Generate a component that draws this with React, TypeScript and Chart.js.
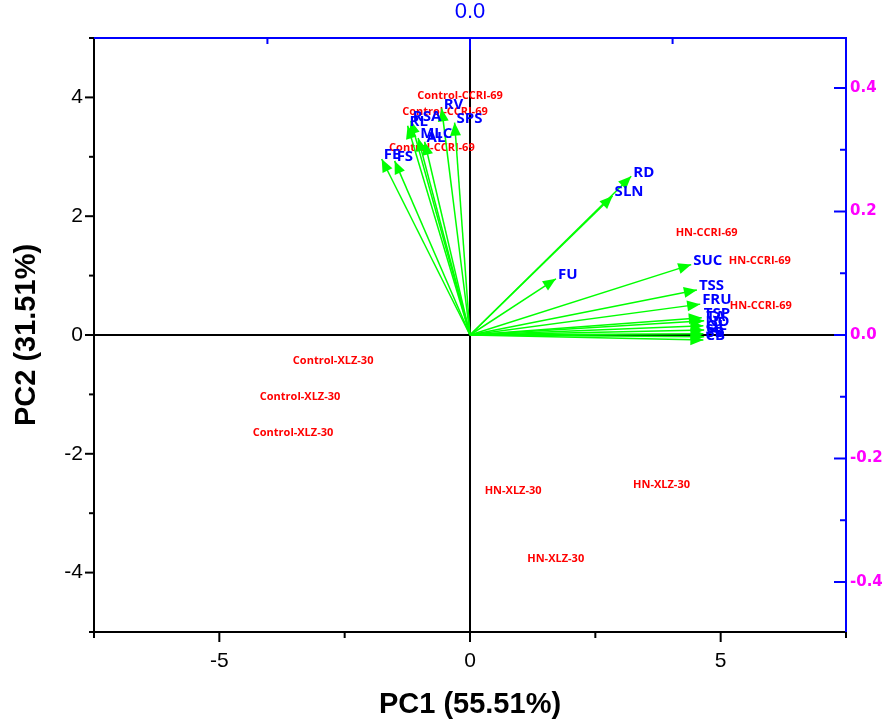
import React, { useEffect, useRef } from 'react';
import { Chart, registerables } from 'chart.js';

Chart.register(...registerables);

// ---- axis ticks ----
const X_TICKS = [-5, 0, 5];
const X_MINOR = [-7.5, -2.5, 2.5, 7.5];
const Y_TICKS = [-4, -2, 0, 2, 4];
const Y_MINOR = [-5, -3, -1, 1, 3, 5];
const Y2_TICKS = [-0.4, -0.2, 0, 0.2, 0.4];
const Y2_MINOR = [-0.3, -0.1, 0.1, 0.3];
const X2_TICKS = [0];
const X2_MINOR = [-0.25, 0.25];

// ---- sample scores (PC1, PC2) ----
const SCORE_GROUPS = ['Control-CCRI-69', 'HN-CCRI-69', 'Control-XLZ-30', 'HN-XLZ-30'];
const CONTROL_CCRI69_PC1 = [-0.2, -0.5, -0.76];
const CONTROL_CCRI69_PC2 = [4.02, 3.76, 3.15];
const HN_CCRI69_PC1 = [4.72, 5.78, 5.8];
const HN_CCRI69_PC2 = [1.72, 1.24, 0.49];
const CONTROL_XLZ30_PC1 = [-2.73, -3.39, -3.53];
const CONTROL_XLZ30_PC2 = [-0.44, -1.04, -1.65];
const HN_XLZ30_PC1 = [0.86, 3.82, 1.71];
const HN_XLZ30_PC2 = [-2.62, -2.53, -3.77];

// ---- variable loadings ----
const VARIABLES = ['RV', 'SPS', 'RSA', 'RL', 'MLC', 'AL', 'FE', 'FS', 'RD', 'SLN', 'FU', 'SUC', 'TSS', 'FRU', 'TSP', 'TA', 'NO', 'QL', 'SC', 'SB', 'CB'];
const LOAD_PC1 = [-0.035, -0.019, -0.073, -0.077, -0.064, -0.056, -0.109, -0.093, 0.199, 0.176, 0.106, 0.273, 0.28, 0.284, 0.286, 0.289, 0.288, 0.289, 0.288, 0.289, 0.288];
const LOAD_PC2 = [0.367, 0.344, 0.347, 0.339, 0.319, 0.313, 0.285, 0.282, 0.257, 0.225, 0.091, 0.114, 0.073, 0.05, 0.028, 0.023, 0.015, 0.008, 0.002, -0.003, -0.008];

const SCORE_X = [CONTROL_CCRI69_PC1, HN_CCRI69_PC1, CONTROL_XLZ30_PC1, HN_XLZ30_PC1];
const SCORE_Y = [CONTROL_CCRI69_PC2, HN_CCRI69_PC2, CONTROL_XLZ30_PC2, HN_XLZ30_PC2];

const ARROW_COLOR = '#00ff00';
const BLUE = '#0000ff';

const biplotPlugin = {
  id: 'biplot',
  beforeDatasetsDraw(chart: any) {
    const { ctx, chartArea: a, scales } = chart;
    ctx.save();
    ctx.strokeStyle = '#000';
    ctx.lineWidth = 2;
    const x0 = scales.x.getPixelForValue(0);
    const y0 = scales.y.getPixelForValue(0);
    ctx.beginPath();
    ctx.moveTo(x0, a.top);
    ctx.lineTo(x0, a.bottom);
    ctx.moveTo(a.left, y0);
    ctx.lineTo(a.right, y0);
    ctx.stroke();
    ctx.font = 'bold 11px "Open Sans", sans-serif';
    ctx.fillStyle = '#ff0000';
    ctx.textAlign = 'center';
    ctx.textBaseline = 'middle';
    chart.data.datasets.forEach((ds: any, i: number) => {
      if (ds.kind !== 'score') return;
      const meta = chart.getDatasetMeta(i);
      meta.data.forEach((pt: any) => ctx.fillText(ds.label, pt.x, pt.y));
    });
    ctx.restore();
  },
  afterDatasetsDraw(chart: any) {
    const { ctx } = chart;
    ctx.save();
    const L = 13;
    const W = 5.5;
    const labels: any[] = [];
    chart.data.datasets.forEach((ds: any, i: number) => {
      if (ds.kind !== 'arrow') return;
      const meta = chart.getDatasetMeta(i);
      const p0 = meta.data[0];
      const p1 = meta.data[1];
      const ang = Math.atan2(p1.y - p0.y, p1.x - p0.x);
      const c = Math.cos(ang);
      const s = Math.sin(ang);
      const bx = p1.x - L * c;
      const by = p1.y - L * s;
      ctx.fillStyle = ARROW_COLOR;
      ctx.beginPath();
      ctx.moveTo(p1.x, p1.y);
      ctx.lineTo(bx - W * s, by + W * c);
      ctx.lineTo(bx + W * s, by - W * c);
      ctx.closePath();
      ctx.fill();
      labels.push({ text: ds.label, x: p1.x + 2, y: p1.y - 4 });
    });
    ctx.font = 'bold 15px "Open Sans", sans-serif';
    ctx.fillStyle = BLUE;
    ctx.textAlign = 'left';
    ctx.textBaseline = 'middle';
    labels.forEach((l) => ctx.fillText(l.text, l.x, l.y));
    ctx.restore();
  },
  afterDraw(chart: any) {
    const { ctx, chartArea: a, scales } = chart;
    ctx.save();
    ctx.lineWidth = 2;
    // left & bottom (black)
    ctx.strokeStyle = '#000';
    ctx.beginPath();
    ctx.moveTo(a.left, a.top);
    ctx.lineTo(a.left, a.bottom);
    ctx.lineTo(a.right, a.bottom);
    ctx.stroke();
    Y_TICKS.forEach((v) => {
      const p = scales.y.getPixelForValue(v);
      ctx.beginPath(); ctx.moveTo(a.left - 9, p); ctx.lineTo(a.left, p); ctx.stroke();
    });
    Y_MINOR.forEach((v) => {
      const p = scales.y.getPixelForValue(v);
      ctx.beginPath(); ctx.moveTo(a.left - 5, p); ctx.lineTo(a.left, p); ctx.stroke();
    });
    X_TICKS.forEach((v) => {
      const p = scales.x.getPixelForValue(v);
      ctx.beginPath(); ctx.moveTo(p, a.bottom); ctx.lineTo(p, a.bottom + 10); ctx.stroke();
    });
    X_MINOR.forEach((v) => {
      const p = scales.x.getPixelForValue(v);
      ctx.beginPath(); ctx.moveTo(p, a.bottom); ctx.lineTo(p, a.bottom + 6); ctx.stroke();
    });
    // top & right (blue)
    ctx.strokeStyle = BLUE;
    ctx.beginPath();
    ctx.moveTo(a.left, a.top);
    ctx.lineTo(a.right, a.top);
    ctx.lineTo(a.right, a.bottom);
    ctx.stroke();
    Y2_TICKS.forEach((v) => {
      const p = scales.y2.getPixelForValue(v);
      ctx.beginPath(); ctx.moveTo(a.right - 12, p); ctx.lineTo(a.right, p); ctx.stroke();
    });
    Y2_MINOR.forEach((v) => {
      const p = scales.y2.getPixelForValue(v);
      ctx.beginPath(); ctx.moveTo(a.right - 6, p); ctx.lineTo(a.right, p); ctx.stroke();
    });
    X2_MINOR.forEach((v) => {
      const p = scales.x2.getPixelForValue(v);
      ctx.beginPath(); ctx.moveTo(p, a.top); ctx.lineTo(p, a.top + 6); ctx.stroke();
    });
    X2_TICKS.forEach((v) => {
      const p = scales.x2.getPixelForValue(v);
      ctx.beginPath(); ctx.moveTo(p, a.top); ctx.lineTo(p, a.top + 12); ctx.stroke();
    });
    ctx.restore();
  },
};

export default function App() {
  const ref = useRef<HTMLCanvasElement | null>(null);

  useEffect(() => {
    if (!ref.current) return;
    Chart.defaults.font.family = '"Liberation Sans", Arial, sans-serif';

    const datasets: any[] = [];
    SCORE_GROUPS.forEach((g, gi) => {
      datasets.push({
        kind: 'score',
        label: g,
        data: SCORE_X[gi].map((x, k) => ({ x, y: SCORE_Y[gi][k] })),
        pointRadius: 0,
        pointHoverRadius: 0,
        xAxisID: 'x',
        yAxisID: 'y',
      });
    });
    VARIABLES.forEach((v, i) => {
      datasets.push({
        kind: 'arrow',
        label: v,
        data: [{ x: 0, y: 0 }, { x: LOAD_PC1[i], y: LOAD_PC2[i] }],
        showLine: true,
        borderColor: ARROW_COLOR,
        borderWidth: 1.5,
        pointRadius: 0,
        pointHoverRadius: 0,
        xAxisID: 'x2',
        yAxisID: 'y2',
      });
    });

    const tickFont = { family: '"Liberation Sans", Arial, sans-serif', size: 21 };
    const titleFont = { family: '"Liberation Sans", Arial, sans-serif', size: 29, weight: 'bold' as const };
    const noGrid = { display: false, drawTicks: false, tickLength: 0 };

    const chart = new Chart(ref.current, {
      type: 'scatter',
      data: { datasets },
      options: {
        animation: false,
        responsive: false,
        layout: { padding: 0 },
        plugins: { legend: { display: false }, tooltip: { enabled: false } },
        scales: {
          x: {
            type: 'linear',
            position: 'bottom',
            min: -7.5,
            max: 7.5,
            grid: noGrid,
            border: { display: false },
            afterBuildTicks: (s: any) => { s.ticks = X_TICKS.map((value) => ({ value })); },
            afterFit: (s: any) => { s.height = 91; },
            ticks: { font: tickFont, color: '#000', padding: 17, maxRotation: 0, autoSkip: false, callback: (v: any) => String(v) },
            title: { display: true, text: 'PC1 (55.51%)', font: titleFont, color: '#000', padding: { top: 0, bottom: 1 } },
          },
          y: {
            type: 'linear',
            position: 'left',
            min: -5,
            max: 5,
            grid: noGrid,
            border: { display: false },
            afterBuildTicks: (s: any) => { s.ticks = Y_TICKS.map((value) => ({ value })); },
            afterFit: (s: any) => { s.width = 94; },
            ticks: { font: tickFont, color: '#000', padding: 11, autoSkip: false, callback: (v: any) => String(v) },
            title: { display: true, text: 'PC2 (31.51%)', font: titleFont, color: '#000', padding: { top: 10, bottom: 0 } },
          },
          x2: {
            type: 'linear',
            position: 'top',
            min: -0.464,
            max: 0.464,
            grid: noGrid,
            border: { display: false },
            afterBuildTicks: (s: any) => { s.ticks = X2_TICKS.map((value) => ({ value })); },
            afterFit: (s: any) => { s.height = 38; },
            ticks: { font: { family: '"Liberation Sans", Arial, sans-serif', size: 22 }, color: BLUE, padding: 13, autoSkip: false, maxRotation: 0, callback: (v: any) => Number(v).toFixed(1) },
          },
          y2: {
            type: 'linear',
            position: 'right',
            min: -0.481,
            max: 0.481,
            grid: noGrid,
            border: { display: false },
            afterBuildTicks: (s: any) => { s.ticks = Y2_TICKS.map((value) => ({ value })); },
            afterFit: (s: any) => { s.width = 50; },
            ticks: { font: { family: '"DejaVu Sans", sans-serif', size: 15, weight: 'bold' }, color: '#ff00ff', padding: 4, autoSkip: false, callback: (v: any) => Number(v).toFixed(1) },
          },
        },
      } as any,
      plugins: [biplotPlugin],
    });
    return () => chart.destroy();
  }, []);

  return (
    <div style={{ position: 'absolute', left: 0, top: 0, width: 896, height: 723, background: '#fff' }}>
      <canvas ref={ref} width={896} height={723} />
    </div>
  );
}
